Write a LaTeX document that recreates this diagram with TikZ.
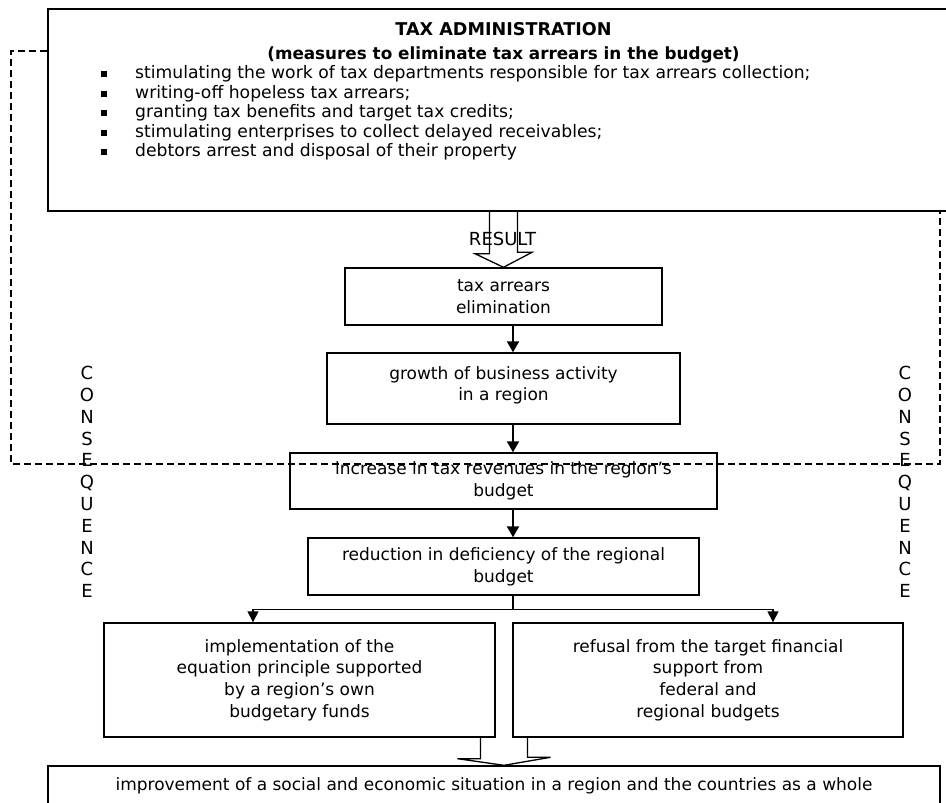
\documentclass[tikz,border=0pt]{standalone}
\usepackage{fontspec}
\setmainfont{DejaVu Sans}
\usetikzlibrary{arrows.meta,calc}
\newcommand{\sqbul}{\makebox[34pt][l]{\raisebox{1.5pt}{\rule{6pt}{6pt}}}}

\begin{document}
\begin{tikzpicture}[
    x=1pt, y=-1pt,
    box/.style={draw, line width=1.4pt, inner sep=0pt, align=center,
        font=\fontsize{17}{21.7}\selectfont},
    flow/.style={draw, line width=2.2pt, -{Triangle[width=12pt,length=11pt]}},
    fork/.style={draw, line width=1.4pt, -{Triangle[width=11pt,length=11pt]}},
    hollow/.style={draw, line width=1.3pt, line join=miter},
    conseq/.style={draw, line width=2pt, dash pattern=on 7pt off 4pt},
    vert/.style={align=center, inner sep=0pt, font=\fontsize{18}{21.8}\selectfont}
]
\useasboundingbox (0,0) rectangle (946,803);

\node[box, minimum width=911pt, minimum height=202pt] (TA) at (503.5,110) {};
\node[align=center, inner sep=0pt, font=\bfseries\fontsize{16.8}{24}\selectfont] (TAT)
    at (503.5,42.5) {\fontsize{17.6}{24}\selectfont TAX ADMINISTRATION\\(measures to eliminate tax arrears in the budget)};
\node[align=left, inner sep=0pt, anchor=west, font=\fontsize{17.2}{19.5}\selectfont] (TAL)
    at (101,113) {\sqbul stimulating the work of tax departments responsible for tax arrears collection;\\
    \sqbul writing-off hopeless tax arrears;\\
    \sqbul granting tax benefits and target tax credits;\\
    \sqbul stimulating enterprises to collect delayed receivables;\\
    \sqbul debtors arrest and disposal of their property};

\node[box, minimum width=317pt, minimum height=57pt] (TAE) at (503.5,296.5) {tax arrears\\elimination};
\node[box, minimum width=353pt, minimum height=71pt] (GBA) at (503.5,388.5) {growth of business activity\\in a region\\[-11.7pt]};
\node[box, minimum width=427pt, minimum height=56pt] (ITR) at (503.5,481) {increase in tax revenues in the region’s\\budget};
\node[box, minimum width=391pt, minimum height=57pt] (RDB) at (503.5,566.5) {reduction in deficiency of the regional\\budget};
\node[box, minimum width=391pt, minimum height=114pt] (EQP) at (299.5,680)
    {implementation of the\\equation principle supported\\by a region’s own\\budgetary funds};
\node[box, minimum width=390pt, minimum height=114pt] (REF) at (708,680)
    {refusal from the target financial\\support from\\federal and\\regional budgets};
\node[box, minimum width=892pt, minimum height=40pt] (IMP) at (494,786)
    {improvement of a social and economic situation in a region and the countries as a whole};

\draw[hollow] ($(TA.south)+(-14,0)$) -- ++(0,42) -- ++(-14.5,0) -- (TAE.north)
    -- ++(28.5,-15) -- ++(-14.5,0) -- ++(0,-42);
\node[inner sep=0pt, font=\fontsize{18}{20}\selectfont] (RES) at (502.5,239) {RESULT};

\draw[flow] ([xshift=9.5pt]TAE.south) -- ([xshift=9.5pt]GBA.north);
\draw[flow] ([xshift=9.5pt]GBA.south) -- ([xshift=9.5pt]ITR.north);
\draw[flow] ([xshift=9.5pt]ITR.south) -- ([xshift=9.5pt]RDB.north);

\draw[line width=1.4pt] ([xshift=9.5pt]RDB.south) -- ++(0,14) coordinate (fk);
\draw[fork] (fk) -| ([xshift=-46.5pt]EQP.north);
\draw[fork] (fk) -| ([xshift=65pt]REF.north);

\coordinate (gap) at ($(EQP.south east)!.5!(REF.south west)$);
\draw[hollow] ($(gap)+(-23.5,0)$) -- ++(0,21) -- ++(-23,0) -- (gap |- IMP.north)
    -- ++(46.5,-8) -- ++(-23,0) -- ++(0,-21);

\coordinate (cL) at (11,464);
\coordinate (cR) at (940,464);
\draw[conseq] ([yshift=-43pt]TA.north west) -| (cL) -- (cR) -- (cR |- TA.south);

\node[vert] (CL) at (87,482) {C\\O\\N\\S\\E\\Q\\U\\E\\N\\C\\E};
\node[vert] (CR) at (905,482) {C\\O\\N\\S\\E\\Q\\U\\E\\N\\C\\E};
\end{tikzpicture}
\end{document}
